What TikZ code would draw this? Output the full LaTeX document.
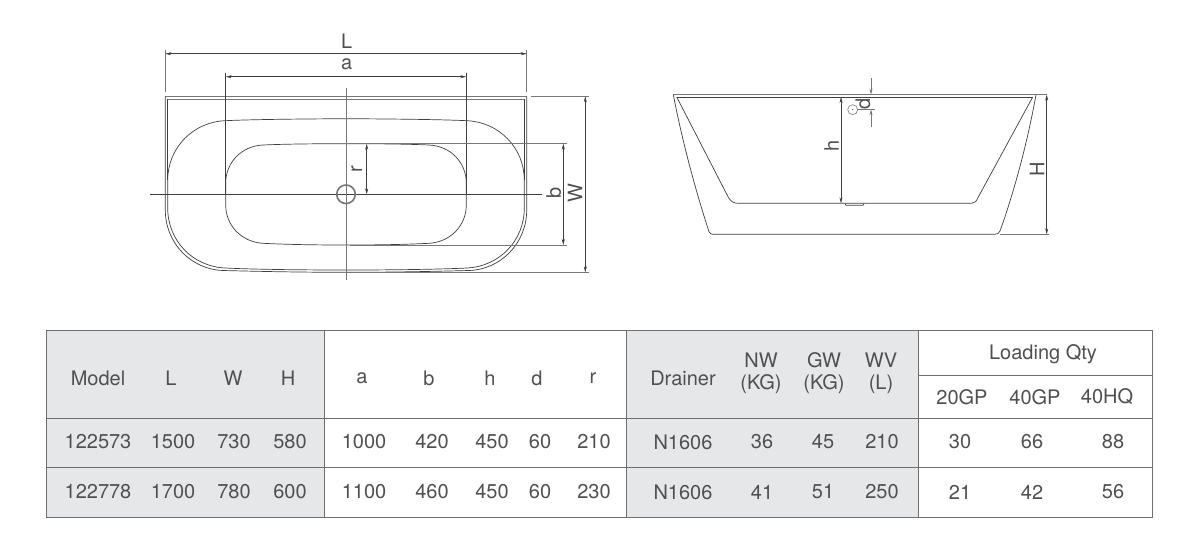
\documentclass[tikz,border=0pt]{standalone}
\usepackage{fontspec}
\setmainfont{TeX Gyre Heros}
\usetikzlibrary{arrows.meta}
\definecolor{ink}{HTML}{3F3F3F}
\definecolor{softink}{HTML}{777777}
\definecolor{txt}{HTML}{505050}
\definecolor{band}{HTML}{E6E7E8}
\definecolor{rule}{HTML}{6E6E6E}
\tikzset{
  x=1pt,y=-1pt,
  body/.style={draw=ink,line width=0.7pt},
  rim/.style={draw=softink,line width=0.9pt},
  axis/.style={draw=ink,line width=0.55pt},
  axisgrey/.style={draw=softink,line width=0.9pt},
  ext/.style={draw=softink,line width=0.7pt},
  dim/.style={draw=ink,line width=0.55pt,{Stealth[length=6pt,width=3pt]}-{Stealth[length=6pt,width=3pt]}},
  dimone/.style={draw=softink,line width=0.6pt,-{Stealth[length=6pt,width=3pt]}},
  dimlab/.style={text=txt,font=\fontsize{20}{20}\selectfont,inner sep=0pt},
  sidelab/.style={dimlab,rotate=90},
  cell/.style={text=txt,font=\fontsize{20}{22}\selectfont,inner sep=0pt,align=center,anchor=center},
  tabrule/.style={draw=rule,line width=0.9pt}
}
\begin{document}
\begin{tikzpicture}
\useasboundingbox (0,0) rectangle (1184,547);
\fill[white] (0,0) rectangle (1184,547);

% ---- top view
\begin{scope}[xshift=346pt]
  % rim, outer
  \path[rim] (-180.7,96.3) -- (180.7,96.3);
  \path[rim] (-178.3,99.3) -- (178.3,99.3);
  \path[body] (-180.7,96.3) -- (-180.7,210)
     .. controls (-180.7,243) and (-155,269.5) .. (-123,270.5)
     .. controls (-90,271.3) and (-50,272.3) .. (0,272.3)
     .. controls (50,272.3) and (90,271.3) .. (123,270.5)
     .. controls (155,269.5) and (180.7,243) .. (180.7,210) -- (180.7,96.3);
  \path[body] (-178.3,99.3) -- (-178.3,180);
  \path[body] (178.3,99.3) -- (178.3,180);
  % bowl rim
  \path[body] (0,118.7) .. controls (-60,119) and (-100,119.7) .. (-121,120.7)
     .. controls (-153,122) and (-178.3,148) .. (-178.3,180) -- (-178.3,208)
     .. controls (-178.3,241) and (-153,266.5) .. (-121,268)
     .. controls (-100,269) and (-60,270) .. (0,270)
     .. controls (60,270) and (100,269) .. (121,268)
     .. controls (153,266.5) and (178.3,241) .. (178.3,208) -- (178.3,180)
     .. controls (178.3,148) and (153,122) .. (121,120.7)
     .. controls (100,119.7) and (60,119) .. (0,118.7) -- cycle;
  % bowl floor
  \path[body] (0,143.7) .. controls (-40,143.7) and (-65,144.2) .. (-83,145)
     .. controls (-105,146) and (-120.3,163) .. (-120.3,183) -- (-120.3,205)
     .. controls (-120.3,225) and (-105,242) .. (-83,243.3)
     .. controls (-65,244.2) and (-40,245) .. (0,245)
     .. controls (40,245) and (65,244.2) .. (83,243.3)
     .. controls (105,242) and (120.3,225) .. (120.3,205) -- (120.3,183)
     .. controls (120.3,163) and (105,146) .. (83,145)
     .. controls (65,144.2) and (40,143.7) .. (0,143.7) -- cycle;
  % centre lines and drain
  \path[axis] (-196,194.3) -- (195.7,194.3);
  \path[axisgrey] (0,87.7) -- (0,280);
  \path[draw=softink,line width=1.6pt,fill=none] (0,194.3) circle[radius=9.3];
  % dimension L
  \path[ext] (-180.7,50) -- (-180.7,91.7);
  \path[ext] (180.7,50) -- (180.7,91.7);
  \path[dim] (-180.7,53.7) -- (180.7,53.7);
  \node[dimlab] (Ltop) at (0.7,41.5) {L};
  % dimension a
  \path[axis] (-120.3,72.7) -- (-120.3,194.3);
  \path[axis] (120.3,72.7) -- (120.3,194.3);
  \path[dim] (-120.3,76.7) -- (120.3,76.7);
  \node[dimlab] (atop) at (0.7,64) {a};
  % dimension r
  \path[dim] (20.7,143.7) -- (20.7,194.3);
  \node[sidelab] (rtop) at (10.7,169) {r};
  % extension lines b, W
  \path[ext] (4,143.7) -- (220.7,143.7);
  \path[ext] (4,245) -- (220.7,245);
  \path[ext] (185,96.3) -- (243,96.3);
  \path[ext] (0,272.3) -- (243,272.3);
  \path[dim] (217.3,143.7) -- (217.3,245);
  \path[dim] (239.3,96.3) -- (239.3,272.3);
  \node[sidelab] (btop) at (207.7,193) {b};
  \node[sidelab] (Wtop) at (229,192.7) {W};
\end{scope}

% ---- side view
\path[rim] (673.3,94.7) -- (1047,94.7);
\path[body] (676.7,97) -- (1032.7,97);
\path[body] (673.3,94.7) .. controls (683,145) and (697,195) .. (709,231.7)
   .. controls (710,233.5) and (711,234.3) .. (713,234.3) -- (995,234.3)
   .. controls (997.5,234.3) and (999,233) .. (1000,231)
   .. controls (1013,195) and (1027,145) .. (1036,94.7);
\path[body] (676.7,97) -- (728,196.7) .. controls (730.5,201) and (733,203.3) .. (738.3,203.3)
   -- (971.7,203.3) .. controls (975,203.3) and (976.5,201) .. (978.3,197) -- (1032.7,97);
\path[body] (845,203.3) -- (846,205.3) -- (863,205.3) -- (864,203.3);
\path[ext] (1000,234.3) -- (1048.5,234.3);
\path[dim] (841,97) -- (841,203.3);
\node[sidelab] (hside) at (831.5,146) {h};
\path[dim] (1046.7,94.7) -- (1046.7,234.3);
\node[sidelab] (Hside) at (1037,169.3) {H};
\path[draw=softink,line width=0.6pt] (852.7,109.7) circle[radius=5];
\fill[ink] (852.7,109.7) circle[radius=0.6];
\path[ext] (858,109.3) -- (875,109.3);
\path[dimone] (871,78.3) -- (871,94.7);
\path[dimone] (871,126.7) -- (871,109.3);
\node[sidelab] (dside) at (863,103.5) {d};

% ---- table
\fill[band] (46,330) rectangle (324,517);
\fill[band] (626,330) rectangle (918,517);
\path[tabrule] (46,330) rectangle (1152,517);
\path[tabrule] (46,418) -- (1152,418);
\path[tabrule] (46,467) -- (1152,467);
\path[tabrule] (918,375) -- (1152,375);
\path[tabrule] (324,330) -- (324,517);
\path[tabrule] (626,330) -- (626,517);
\path[tabrule] (918,330) -- (918,517);

\foreach \n/\x/\s in {hA/98/Model,hB/171/L,hC/233/W,hD/288/H,hE/362/a,hF/429/b,hG/490/h,hH/537/d,hI/593/r,hJ/683/Drainer}
  \node[cell] (\n) at (\x,378) {\s};
\node[cell] (hNW) at (761,373) {NW\\(KG)};
\node[cell] (hGW) at (824,373) {GW\\(KG)};
\node[cell] (hWV) at (881,373) {WV\\(L)};
\node[cell] (hLQ) at (1043,354) {Loading Qty};
\node[cell] (sA) at (962,397) {20GP};
\node[cell] (sB) at (1035,397) {40GP};
\node[cell] (sC) at (1107,397) {40HQ};

\foreach \n/\x/\s/\t in {A/98/122573/122778,B/173/1500/1700,C/234/730/780,D/290/580/600,E/364/1000/1100,F/432/420/460,G/492/450/450,H/540/60/60,I/594/210/230,J/683/N1606/N1606,K/762/36/41,M/823/45/51,N/882/210/250,O/960/30/21,P/1032/66/42,Q/1113/88/56}{
  \node[cell] (r1\n) at (\x,442) {\s};
  \node[cell] (r2\n) at (\x,492) {\t};
}
\end{tikzpicture}
\end{document}
